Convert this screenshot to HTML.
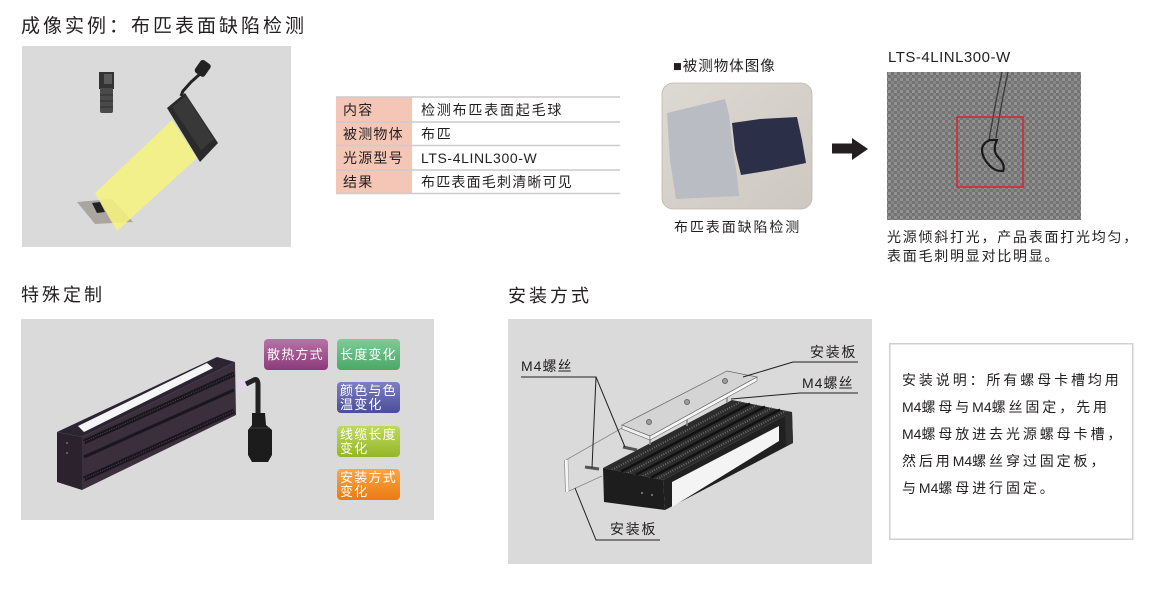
<!DOCTYPE html>
<html><head><meta charset="utf-8">
<style>
body{margin:0;width:1152px;height:600px;background:#fff;position:relative;overflow:hidden;font-family:"Liberation Sans","Noto Sans CJK SC",sans-serif;color:#231f20}
.t{position:absolute;white-space:nowrap;line-height:1}
.w{color:#fff;font-size:13px;letter-spacing:1.2px}
.m{letter-spacing:0}
</style></head><body>
<svg width="1152" height="600" style="position:absolute;left:0;top:0">
<defs>
<pattern id="tx" width="6" height="6" patternUnits="userSpaceOnUse"><rect width="6" height="6" fill="#737373"/><rect width="3" height="3" fill="#939393"/><rect x="3" y="3" width="3" height="3" fill="#868686"/></pattern>
<linearGradient id="gp" x1="0" y1="0" x2="0" y2="1"><stop offset="0" stop-color="#b873a6"/><stop offset="1" stop-color="#8c3a7a"/></linearGradient>
<linearGradient id="gg" x1="0" y1="0" x2="0" y2="1"><stop offset="0" stop-color="#80cb96"/><stop offset="1" stop-color="#4aa867"/></linearGradient>
<linearGradient id="gb" x1="0" y1="0" x2="0" y2="1"><stop offset="0" stop-color="#7d80c2"/><stop offset="1" stop-color="#4a4d98"/></linearGradient>
<linearGradient id="gy" x1="0" y1="0" x2="0" y2="1"><stop offset="0" stop-color="#bfd95e"/><stop offset="1" stop-color="#94b62a"/></linearGradient>
<linearGradient id="go" x1="0" y1="0" x2="0" y2="1"><stop offset="0" stop-color="#f8a844"/><stop offset="1" stop-color="#ec7a12"/></linearGradient>
<linearGradient id="ph" x1="0" y1="0" x2="1" y2="1"><stop offset="0" stop-color="#ddd9d3"/><stop offset="1" stop-color="#cdc8c0"/></linearGradient>
</defs>
<!-- backgrounds -->
<rect x="22" y="46" width="269" height="201" fill="#dadada"/>
<rect x="21" y="319" width="413" height="201" fill="#dadada"/>
<rect x="508" y="319" width="364" height="245" fill="#dadada"/>
<rect x="889.75" y="343.75" width="243" height="195.5" fill="#fff" stroke="#d0d0d0" stroke-width="1.5"/>

<!-- table -->
<rect x="336" y="97" width="76" height="96.5" fill="#f3c6b6"/>
<g stroke="#cccccc" stroke-width="1.5">
<line x1="336" y1="97" x2="620" y2="97"/>
<line x1="336" y1="122" x2="620" y2="122"/>
<line x1="336" y1="145.5" x2="620" y2="145.5"/>
<line x1="336" y1="170" x2="620" y2="170"/>
<line x1="336" y1="193.5" x2="620" y2="193.5"/>
</g>

<!-- top-left scene -->
<rect x="99" y="72" width="15" height="17" fill="#333"/>
<rect x="104" y="74" width="8" height="10" fill="#5a5a5a"/>
<rect x="100" y="88" width="13" height="25" rx="2" fill="#4a4a4a"/>
<g stroke="#2e2e2e" stroke-width="1"><line x1="100" y1="95" x2="113" y2="95"/><line x1="100" y1="101" x2="113" y2="101"/><line x1="100" y1="107" x2="113" y2="107"/></g>
<path d="M181,96 L183,91 L191,82 L200,74" stroke="#222" stroke-width="3" fill="none"/>
<rect x="197" y="61" width="12" height="15" rx="3" fill="#222" transform="rotate(35 203 68)"/>
<polygon points="167,108 185,93 218,143 200,162" fill="#2a2a2a"/>
<polygon points="172,107 186,96 214,139 201,150" fill="#383838"/>
<polygon points="77,202 112,199 133,222 95,224" fill="#aaa69f"/>
<polygon points="92,203 100,202 105,212 97,213" fill="#222"/>
<polygon points="172,120 197,158 117,231 95,193" fill="#f5f27e" opacity="0.88"/>

<!-- middle photo -->
<rect x="662" y="83" width="150" height="126" rx="11" fill="url(#ph)" stroke="#bdb8b0" stroke-width="0.8"/>
<polygon points="667,113 725,99 729,115 733,150 737,176 739,196 676,199 670,160" fill="#b9bcc2"/>
<polygon points="732,123 760,119 797,117 802,140 806,163 772,170 741,175 735,150" fill="#2b3048"/>

<!-- arrow -->
<polygon points="832,143.5 852,143.5 852,138 868,149 852,160 852,153.5 832,153.5" fill="#231f20"/>

<!-- right textured image -->
<rect x="887" y="72" width="194" height="148" fill="url(#tx)"/>
<path d="M1008,72 Q1000,110 996,138 M1002,72 Q994,110 989,140" stroke="#3a3a3a" stroke-width="1.3" fill="none"/>
<path d="M990,140 Q978,145 984,158 Q992,172 1003,171 Q1006,165 998,157 Q992,150 997,140 Q988,140 990,140" stroke="#1a1a1a" stroke-width="2.2" fill="none"/>
<rect x="957" y="117" width="66" height="70" fill="none" stroke="#d9232e" stroke-width="1.5"/>

<!-- bottom-left light bar -->
<polygon points="57,432 82,437 82,490 57,482" fill="#2a222d"/>
<polygon points="57,432 217,357 235,362 82,437" fill="#2c2432"/>
<polygon points="78,426 207,363 213,368 84,432" fill="#f5f5f5"/>
<polygon points="82,437 235,362 236,415 82,490" fill="#3b2f3e"/>
<g stroke="#1b151d" fill="none">
<line x1="84" y1="442" x2="234" y2="374" stroke-width="5"/>
<line x1="84" y1="457" x2="234" y2="390" stroke-width="3"/>
<line x1="84" y1="479" x2="234" y2="411" stroke-width="5"/>
</g>
<g stroke="#55485a" fill="none" stroke-dasharray="1 1.5" stroke-width="1">
<line x1="84" y1="442" x2="234" y2="374"/>
<line x1="84" y1="479" x2="234" y2="411"/>
</g>
<circle cx="67" cy="443" r="0.9" fill="#888"/><circle cx="67" cy="453" r="0.9" fill="#888"/>
<rect x="238" y="378" width="8" height="14" fill="#e3d6ea"/>
<path d="M246,384 L254,380 Q258,378 258,385 L258,416" stroke="#222" stroke-width="5" fill="none"/>
<path d="M252,413 L265,413 L266,425 L272,430 L272,455 L268,462 L252,462 L248,455 L248,430 L252,425 Z" fill="#1c1c1c"/>
<line x1="250" y1="428" x2="270" y2="428" stroke="#3a3a3a" stroke-width="1"/>

<!-- color labels -->
<rect x="264" y="339" width="64" height="31" rx="4" fill="url(#gp)"/>
<rect x="337" y="339" width="63" height="31" rx="4" fill="url(#gg)"/>
<rect x="337" y="382" width="63" height="31" rx="4" fill="url(#gb)"/>
<rect x="337" y="426" width="63" height="31" rx="4" fill="url(#gy)"/>
<rect x="337" y="469" width="63" height="31" rx="4" fill="url(#go)"/>

<!-- mounting diagram -->
<path d="M566,460 L622,428" stroke="#8a8a8a" stroke-width="0.8" fill="none"/>
<path d="M567,492 L602,476" stroke="#8a8a8a" stroke-width="0.8" fill="none"/>
<line x1="566" y1="460" x2="567" y2="492" stroke="#f6f6f6" stroke-width="3"/>
<line x1="564.5" y1="460" x2="565.5" y2="492" stroke="#777" stroke-width="0.6"/>
<line x1="568" y1="459" x2="569" y2="491" stroke="#999" stroke-width="0.5"/>
<line x1="585" y1="467" x2="599" y2="469" stroke="#555" stroke-width="3"/>
<line x1="623" y1="447" x2="637" y2="450" stroke="#555" stroke-width="3"/>
<polygon points="603,468 663,480 792,412 732,400" fill="#2c2c2c"/>
<g stroke="#111" stroke-width="2.5">
<line x1="621" y1="471.6" x2="750" y2="403.6"/>
<line x1="636" y1="474.6" x2="765" y2="406.6"/>
<line x1="651" y1="477.6" x2="780" y2="409.6"/>
</g>
<g stroke="#6a6a6a" stroke-width="2" stroke-dasharray="1 1.5">
<line x1="612" y1="469.8" x2="741" y2="401.8"/>
<line x1="628" y1="473" x2="757" y2="405"/>
<line x1="643" y1="476" x2="772" y2="408"/>
<line x1="657" y1="479" x2="786" y2="411"/>
</g>
<polygon points="603,468 663,480 665,510 604,502" fill="#1d1d1d"/>
<polygon points="663,480 792,412 793,443 665,510" fill="#202020"/>
<polygon points="672,482 779,426 779,441 672,507" fill="#f4f4f4"/>
<polygon points="785,414 792,412 793,443 786,446" fill="#2e2e2e"/>
<circle cx="642" cy="493" r="1.1" fill="#777"/><circle cx="652" cy="495" r="1.1" fill="#777"/>
<g stroke="#888" stroke-width="1.5">
<line x1="650" y1="437" x2="650" y2="445"/>
<line x1="687" y1="418" x2="687" y2="426"/>
<line x1="727" y1="396" x2="727" y2="403"/>
</g>
<polygon points="622,425 650,436 650,440 622,429" fill="#eee" stroke="#666" stroke-width="0.6"/>
<polygon points="650,436 757,377 757,381 650,440" fill="#f8f8f8" stroke="#666" stroke-width="0.6"/>
<polygon points="622,425 727,371 757,377 650,436" fill="#d4d4d4" stroke="#666" stroke-width="0.7"/>
<g fill="#9a9a9a" stroke="#444" stroke-width="0.6">
<circle cx="725" cy="381" r="2.6"/><circle cx="687" cy="402" r="2.6"/><circle cx="649" cy="422" r="2.6"/>
</g>
<g stroke="#231f20" stroke-width="1" fill="none">
<path d="M858,362 L793,362 L743,377"/>
<path d="M858,393 L800,393 L731,399"/>
<path d="M521,377 L596,377 L592,468 M596,377 L625,447"/>
<path d="M575,488 L596,540 L660,540"/>
</g>
</svg>

<div class="t" style="left:21px;top:17px;font-size:19px;letter-spacing:3px">成像实例：布匹表面缺陷检测</div>

<div class="t" style="left:343px;top:103px;font-size:14px;letter-spacing:1.2px">内容</div>
<div class="t" style="left:343px;top:127px;font-size:14px;letter-spacing:1.2px">被测物体</div>
<div class="t" style="left:343px;top:151px;font-size:14px;letter-spacing:1.2px">光源型号</div>
<div class="t" style="left:343px;top:175px;font-size:14px;letter-spacing:1.2px">结果</div>
<div class="t" style="left:421px;top:103px;font-size:14px;letter-spacing:1.8px">检测布匹表面起毛球</div>
<div class="t" style="left:421px;top:127px;font-size:14px;letter-spacing:1.8px">布匹</div>
<div class="t" style="left:421px;top:151px;font-size:14px;letter-spacing:0.6px">LTS-4LINL300-W</div>
<div class="t" style="left:421px;top:175px;font-size:14px;letter-spacing:1.2px">布匹表面毛刺清晰可见</div>

<div class="t" style="left:673px;top:60px;font-size:14.5px;letter-spacing:1px">■被测物体图像</div>
<div class="t" style="left:674px;top:220px;font-size:14px;letter-spacing:1.9px">布匹表面缺陷检测</div>

<div class="t" style="left:888px;top:50px;font-size:15px;letter-spacing:0.5px">LTS-4LINL300-W</div>
<div class="t" style="left:887px;top:230px;font-size:14px;letter-spacing:1.75px">光源倾斜打光，产品表面打光均匀，</div>
<div class="t" style="left:887px;top:249px;font-size:14px;letter-spacing:1.75px">表面毛刺明显对比明显。</div>

<div class="t" style="left:21px;top:286px;font-size:18px;letter-spacing:3px">特殊定制</div>
<div class="t" style="left:508px;top:287px;font-size:18px;letter-spacing:3px">安装方式</div>

<div class="t w" style="left:267px;top:348px">散热方式</div>
<div class="t w" style="left:340px;top:348px">长度变化</div>
<div class="t w" style="left:340px;top:384px">颜色与色</div>
<div class="t w" style="left:340px;top:398px">温变化</div>
<div class="t w" style="left:340px;top:428px">线缆长度</div>
<div class="t w" style="left:340px;top:442px">变化</div>
<div class="t w" style="left:340px;top:471px">安装方式</div>
<div class="t w" style="left:340px;top:485px">变化</div>

<div class="t" style="left:810px;top:345px;font-size:14px;letter-spacing:1.7px">安装板</div>
<div class="t" style="left:802px;top:376px;font-size:14px;letter-spacing:1px">M4螺丝</div>
<div class="t" style="left:521px;top:359px;font-size:14px;letter-spacing:1px">M4螺丝</div>
<div class="t" style="left:610px;top:522px;font-size:14px;letter-spacing:1.7px">安装板</div>

<div class="t" style="left:902px;top:367px;font-size:14px;line-height:27px;letter-spacing:2.9px">安装说明：所有螺母卡槽均用<br><span class="m">M4</span>螺母与<span class="m">M4</span>螺丝固定，先用<br><span class="m">M4</span>螺母放进去光源螺母卡槽，<br>然后用<span class="m">M4</span>螺丝穿过固定板，<br>与<span class="m">M4</span>螺母进行固定。</div>
</body></html>
